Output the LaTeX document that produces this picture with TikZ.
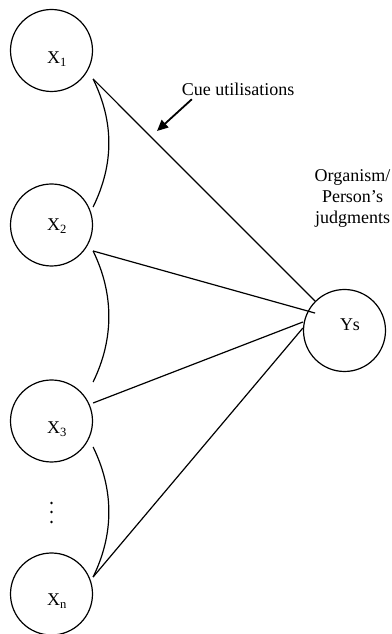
\documentclass[tikz,border=0pt]{standalone}
\usepackage{fontspec}
\setmainfont{Liberation Serif}
\usetikzlibrary{arrows.meta}
\tikzset{>={Triangle[length=11pt,width=10pt]}}

\begin{document}
\begin{tikzpicture}[x=1pt, y=1pt, line width=1.2pt,
    font=\fontsize{18}{21}\selectfont,
    unit/.style={draw, circle, minimum size=82pt, inner sep=0pt},
    every label/.style={xshift=5.5pt}]
      \useasboundingbox (0, 0) rectangle (391, 634);

      \node[unit, label={[yshift=-8.5pt]center:X\textsubscript{1}}](x1) at (51.5, 583.5) {};
      \node[unit, label={[yshift=-1pt]center:X\textsubscript{2}}](x2) at (51.5, 409) {};
      \node[unit, label={[yshift=-8pt]center:X\textsubscript{3}}](x3) at (51.5, 213) {};
      \node[unit, label={[yshift=-7pt]center:X\textsubscript{n}}](xn) at (51.5, 40) {};
      \node[unit, label={[yshift=6pt]center:Ys}](ys) at (344.5, 303.5) {};

      \node[align=center](judge) at (352.5, 436) {Organism/\\Person’s\\judgments};
      \node(cue) at (238, 545) {Cue utilisations};
      \coordinate (cuetip) at (157, 503);
      \draw[->, line width=1.8pt] ([xshift=14pt]cue.south west) -- (cuetip);

      % cue lines
      \draw ([yshift=-28.5pt]x1.east) -- (ys.north west);
      \draw ([yshift=-26pt]x2.east) -- ([yshift=-12pt]ys.north west);
      \draw ([yshift=18pt]x3.east) -- ([yshift=8.5pt]ys.west);
      \draw ([yshift=17pt]xn.east) -- ([yshift=2.5pt]ys.west);

      % brackets between cues
      \draw ([yshift=-28.5pt]x1.east) .. controls +(21, -43) and +(21, 43) .. ([yshift=18pt]x2.east);
      \draw ([yshift=-26pt]x2.east) .. controls +(21, -43) and +(21, 43) .. ([yshift=39pt]x3.east);
      \draw ([yshift=-26pt]x3.east) .. controls +(21, -43) and +(21, 43) .. ([yshift=17pt]xn.east);

      \foreach \y in {131, 122, 112} {
        \fill (51.5, \y) circle (1.4pt);
      }
    \end{tikzpicture}
\end{document}
